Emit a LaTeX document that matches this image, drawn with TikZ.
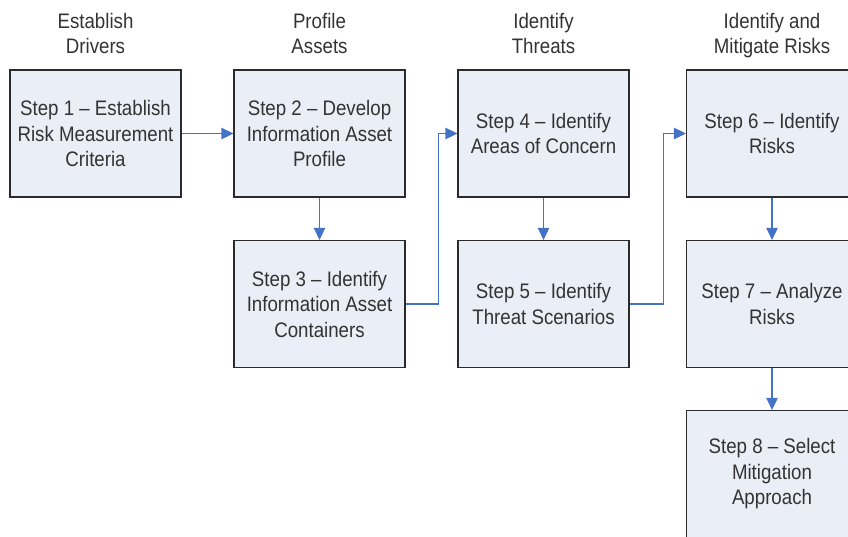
\documentclass[tikz,border=0pt]{standalone}
\usepackage{fontspec}
\setmainfont{Liberation Sans}[FakeStretch=0.89]
\usetikzlibrary{arrows.meta}
\definecolor{boxfill}{HTML}{E9EEF7}
\definecolor{boxline}{HTML}{2B2B2B}
\definecolor{txt}{HTML}{333333}
\definecolor{arr}{HTML}{4472C4}
\tikzset{
  stepbox/.style={draw=boxline, line width=1.3pt, fill=boxfill, minimum width=171pt, minimum height=127pt, align=center, text=txt, inner sep=0pt, font=\fontsize{21}{25.5}\selectfont},
  header/.style={align=center, text=txt, inner sep=0pt, font=\fontsize{21}{25.5}\selectfont},
  flow/.style={draw=arr, line width=1.3pt, -{Triangle[length=12pt,width=11.5pt]}}
}
\begin{document}
\begin{tikzpicture}[x=1pt,y=-1pt]
\useasboundingbox (0,0) rectangle (848,536);
\clip (0,0) rectangle (848,536);
\node[header] (h1) at (95.5,36) {Establish\strut\\Drivers\strut};
\node[header] (h2) at (319.5,36) {Profile\strut\\Assets\strut};
\node[header] (h3) at (543.5,36) {Identify\strut\\Threats\strut};
\node[header] (h4) at (772,36) {Identify and\strut\\Mitigate Risks\strut};
\node[stepbox] (b1) at (95.5,133.5) {Step 1 – Establish\\Risk Measurement\\Criteria};
\node[stepbox] (b2) at (319.5,133.5) {Step 2 – Develop\\Information Asset\\Profile};
\node[stepbox] (b3) at (319.5,304) {Step 3 – Identify\\Information Asset\\Containers};
\node[stepbox] (b4) at (543.5,133.5) {Step 4 – Identify\\Areas of Concern};
\node[stepbox] (b5) at (543.5,304) {Step 5 – Identify\\Threat Scenarios};
\node[stepbox] (b6) at (772,133.5) {Step 6 – Identify\\Risks};
\node[stepbox] (b7) at (772,304) {Step 7 – Analyze\\Risks};
\node[stepbox] (b8) at (772,474) {Step 8 – Select\\Mitigation\\Approach};
\draw[flow] (b1.east) -- (b2.west);
\draw[flow] (b2.south) -- (b3.north);
\draw[flow] (b3.east) -- ++(33,0) |- (b4.west);
\draw[flow] (b4.south) -- (b5.north);
\draw[flow] (b5.east) -- ++(34,0) |- (b6.west);
\draw[flow] (b6.south) -- (b7.north);
\draw[flow] (b7.south) -- (b8.north);
\end{tikzpicture}
\end{document}
